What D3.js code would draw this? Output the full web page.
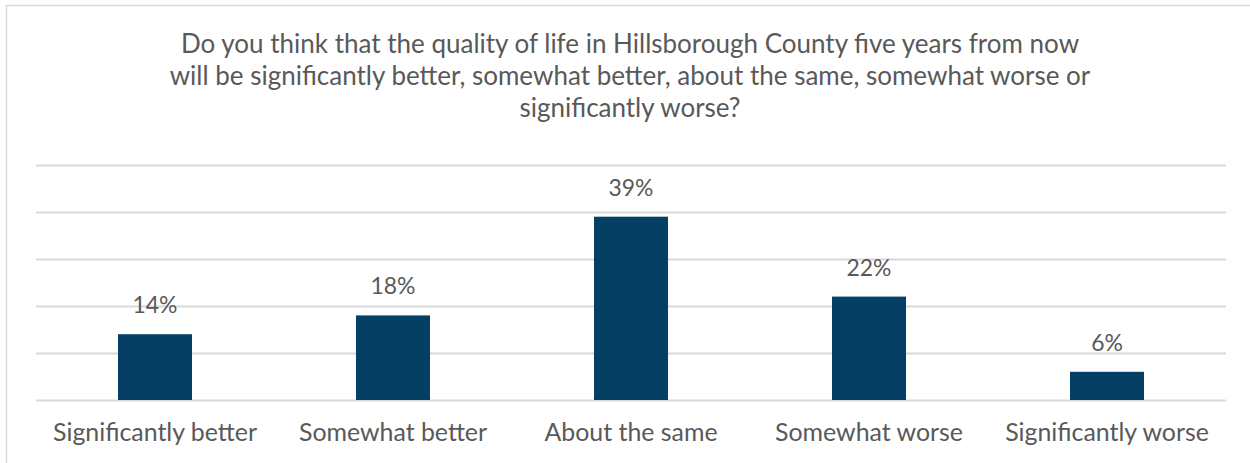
<!DOCTYPE html>
<html>
<head>
<meta charset="utf-8">
<script src="https://cdn.jsdelivr.net/npm/d3@7"></script>
<style>
  html, body { margin: 0; padding: 0; background: #ffffff; }
  svg { display: block; }
  text { font-family: Lato, "Open Sans", sans-serif; fill: #595959; }
</style>
</head>
<body>
<svg id="chart" width="1250" height="463"></svg>
<script>
// Survey responses (share of respondents)
const categories = ["Significantly better", "Somewhat better", "About the same", "Somewhat worse", "Significantly worse"];
const shares = [14, 18, 39, 22, 6];
const gridTicks = [0, 10, 20, 30, 40, 50];
const titleLines = [
  "Do you think that the quality of life in Hillsborough County five years from now",
  "will be significantly better, somewhat better, about the same, somewhat worse or",
  "significantly worse?"
];

const svg = d3.select("#chart");
const W = 1250, H = 463;
const plot = { left: 36, right: 1226, top: 165, bottom: 400 };

// chart frame
svg.append("rect")
  .attr("x", 6.5).attr("y", 5.5)
  .attr("width", W + 10).attr("height", H + 10)
  .attr("fill", "#ffffff")
  .attr("stroke", "#d9d9d9").attr("stroke-width", 1.5);

// helper: scale a text's font so it spans a given width
function fitWidth(sel, target) {
  const node = sel.node();
  const fs = parseFloat(sel.attr("font-size"));
  const w = node.getComputedTextLength();
  sel.attr("font-size", (fs * target / w).toFixed(2));
  return fs * target / w;
}

// title, three centred lines
const title = svg.append("g");
const titleBaselines = [53, 85, 117];
const t0 = title.append("text").attr("font-size", 24).text(titleLines[0]);
const titleSize = Math.min(fitWidth(t0, 930), 26);
t0.remove();
titleLines.forEach((line, i) => {
  title.append("text")
    .attr("x", 630).attr("y", titleBaselines[i])
    .attr("text-anchor", "middle")
    .attr("font-size", titleSize)
    .text(line);
});

// scales
const x = d3.scaleBand()
  .domain(categories)
  .range([plot.left, plot.right])
  .paddingInner(0.689)
  .paddingOuter(0.3445);

const y = d3.scaleLinear()
  .domain([0, 50])
  .range([plot.bottom, plot.top]);

// horizontal gridlines
svg.append("g")
  .selectAll("line")
  .data(gridTicks)
  .join("line")
  .attr("x1", plot.left).attr("x2", plot.right)
  .attr("y1", d => Math.round(y(d)) + 0.5).attr("y2", d => Math.round(y(d)) + 0.5)
  .attr("stroke", "#d9d9d9").attr("stroke-width", 2);

// bars
svg.append("g")
  .selectAll("rect")
  .data(shares)
  .join("rect")
  .attr("x", (d, i) => x(categories[i]))
  .attr("y", d => y(d))
  .attr("width", x.bandwidth())
  .attr("height", d => y(0) - y(d))
  .attr("fill", "#053f64");

// value labels
const probe = svg.append("text").attr("font-size", 20).text("39%");
const valueSize = fitWidth(probe, 45);
probe.remove();
svg.append("g")
  .selectAll("text")
  .data(shares)
  .join("text")
  .attr("x", (d, i) => x(categories[i]) + x.bandwidth() / 2)
  .attr("y", d => y(d) - 21)
  .attr("text-anchor", "middle")
  .attr("font-size", valueSize)
  .text(d => d + "%");

// category axis labels
const probe2 = svg.append("text").attr("font-size", 22).text(categories[0]);
const catSize = fitWidth(probe2, 204);
probe2.remove();
const xAxis = d3.axisBottom(x).tickSize(0).tickPadding(0);
const axisG = svg.append("g")
  .attr("transform", `translate(0,${plot.bottom})`)
  .call(xAxis);
axisG.select(".domain").remove();
axisG.selectAll("text")
  .attr("dy", null)
  .attr("y", 41)
  .attr("font-size", catSize)
  .attr("font-family", null)
  .style("fill", "#595959");
</script>
</body>
</html>
